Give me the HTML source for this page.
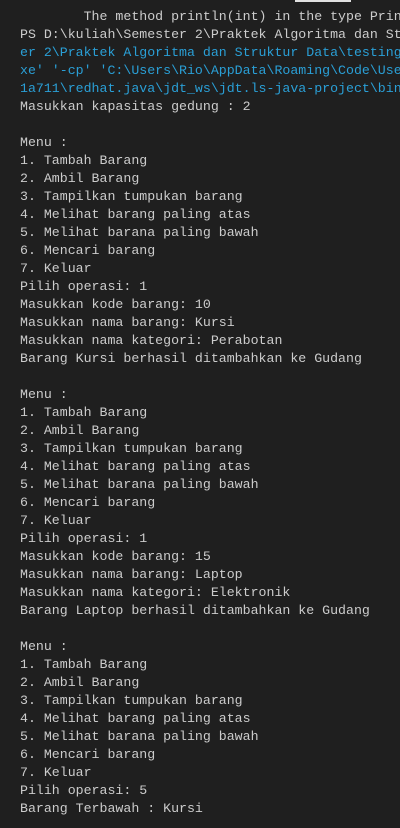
<!DOCTYPE html>
<html><head><meta charset="utf-8"><style>
html,body{margin:0;padding:0;background:#1f1f1f;width:400px;height:828px;overflow:hidden}
.wrap{position:absolute;left:20px;top:8px;width:380px;height:820px;overflow:hidden}
pre{margin:0;font-family:"Liberation Mono",monospace;font-size:13.25px;line-height:18px;color:#cccccc;white-space:pre}
.b{color:#2a9fd6}
.bar{position:absolute;left:295px;top:0;width:56px;height:2px;background:#e0e0e0}
</style></head><body>
<div class="bar"></div>
<div class="wrap"><pre>        The method println(int) in the type Prin
PS D:\kuliah\Semester 2\Praktek Algoritma dan St
<span class="b">er 2\Praktek Algoritma dan Struktur Data\testing</span>
<span class="b">xe' '-cp' 'C:\Users\Rio\AppData\Roaming\Code\Use</span>
<span class="b">1a711\redhat.java\jdt_ws\jdt.ls-java-project\bin</span>
Masukkan kapasitas gedung : 2

Menu :
1. Tambah Barang
2. Ambil Barang
3. Tampilkan tumpukan barang
4. Melihat barang paling atas
5. Melihat barana paling bawah
6. Mencari barang
7. Keluar
Pilih operasi: 1
Masukkan kode barang: 10
Masukkan nama barang: Kursi
Masukkan nama kategori: Perabotan
Barang Kursi berhasil ditambahkan ke Gudang

Menu :
1. Tambah Barang
2. Ambil Barang
3. Tampilkan tumpukan barang
4. Melihat barang paling atas
5. Melihat barana paling bawah
6. Mencari barang
7. Keluar
Pilih operasi: 1
Masukkan kode barang: 15
Masukkan nama barang: Laptop
Masukkan nama kategori: Elektronik
Barang Laptop berhasil ditambahkan ke Gudang

Menu :
1. Tambah Barang
2. Ambil Barang
3. Tampilkan tumpukan barang
4. Melihat barang paling atas
5. Melihat barana paling bawah
6. Mencari barang
7. Keluar
Pilih operasi: 5
Barang Terbawah : Kursi</pre></div>
</body></html>
